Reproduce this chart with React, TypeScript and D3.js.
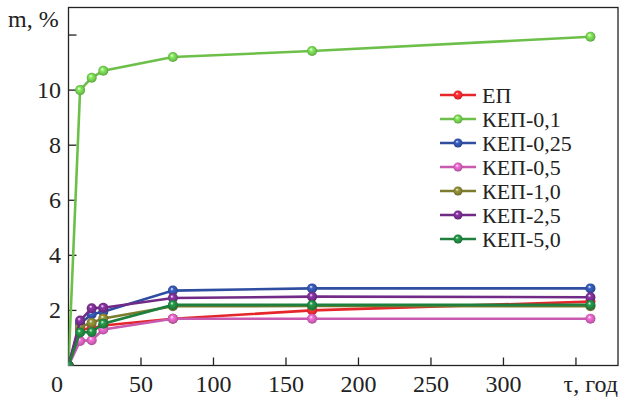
import React, { useEffect, useRef } from 'react';
import * as d3 from 'd3';

// time, hours
const hours = [0, 8, 16, 24, 72, 168, 360];

const seriesNames = ['ЕП', 'КЕП-0,1', 'КЕП-0,25', 'КЕП-0,5', 'КЕП-1,0', 'КЕП-2,5', 'КЕП-5,0'];
const seriesColors = ['#e5262b', '#6cc04a', '#2f4ea1', '#c85ab0', '#7d7b2e', '#712b87', '#1f7f3d'];

// mass change, %
const ep = [0, 1.3, 1.35, 1.45, 1.7, 2.0, 2.32];
const kep01 = [0, 10.0, 10.45, 10.7, 11.2, 11.42, 11.94];
const kep025 = [0, 1.52, 1.86, 1.95, 2.72, 2.8, 2.8];
const kep05 = [0, 0.89, 0.92, 1.31, 1.7, 1.7, 1.7];
const kep10 = [0, 1.4, 1.55, 1.71, 2.15, 2.16, 2.15];
const kep25 = [0, 1.63, 2.08, 2.1, 2.45, 2.5, 2.48];
const kep50 = [0, 1.2, 1.22, 1.52, 2.2, 2.2, 2.2];

const allSeries = [ep, kep01, kep025, kep05, kep10, kep25, kep50];

const yTicks = [2, 4, 6, 8, 10, 12];
const xTicks = [50, 100, 150, 200, 250, 300, 350];
const xTickLabels = ['50', '100', '150', '200', '250', '300', ''];

const App = () => {
  const chartRef = useRef<SVGSVGElement>(null);

  useEffect(() => {
    const width = 619;
    const height = 401;
    const left = 68.5, right = 618, top = 7.5, bottom = 365.5;

    const x = d3.scaleLinear().domain([0, 379]).range([left, right]);
    const y = d3.scaleLinear().domain([0, 13]).range([bottom, top]);

    const svg = d3.select(chartRef.current)
      .attr('width', width)
      .attr('height', height);
    svg.selectAll('*').remove();

    const defs = svg.append('defs');
    seriesColors.forEach((c, i) => {
      const g = defs.append('radialGradient')
        .attr('id', `ball${i}`)
        .attr('cx', '50%').attr('cy', '50%').attr('r', '55%')
        .attr('fx', '38%').attr('fy', '32%');
      g.append('stop').attr('offset', '0%').attr('stop-color', '#ffffff');
      g.append('stop').attr('offset', '30%').attr('stop-color', d3.color(c)!.brighter(0.6).formatHex());
      g.append('stop').attr('offset', '75%').attr('stop-color', c);
      g.append('stop').attr('offset', '100%').attr('stop-color', d3.color(c)!.darker(0.8).formatHex());
    });
    defs.append('clipPath').attr('id', 'plotclip')
      .append('rect')
      .attr('x', left).attr('y', top - 10)
      .attr('width', right - left + 10).attr('height', bottom - top + 10);

    const font = '"Liberation Serif", "Times New Roman", serif';

    // frame
    svg.append('rect')
      .attr('x', left).attr('y', top)
      .attr('width', right - left).attr('height', bottom - top)
      .attr('fill', 'none').attr('stroke', '#222').attr('stroke-width', 1.3);

    // ticks (inward)
    svg.selectAll('.yt').data(yTicks).enter().append('line')
      .attr('x1', left).attr('x2', left + 8)
      .attr('y1', d => y(d)).attr('y2', d => y(d))
      .attr('stroke', '#222').attr('stroke-width', 1.3);
    svg.selectAll('.xt').data(xTicks).enter().append('line')
      .attr('x1', d => x(d)).attr('x2', d => x(d))
      .attr('y1', bottom).attr('y2', bottom - 8)
      .attr('stroke', '#222').attr('stroke-width', 1.3);

    svg.selectAll('.yl').data(yTicks.filter(d => d <= 10)).enter().append('text')
      .attr('x', 61).attr('y', d => y(d) + 8)
      .attr('text-anchor', 'end')
      .attr('font-family', font).attr('font-size', 24).attr('fill', '#222')
      .text(d => d);
    svg.selectAll('.xl').data(xTicks).enter().append('text')
      .attr('x', d => x(d)).attr('y', 392)
      .attr('text-anchor', 'middle')
      .attr('font-family', font).attr('font-size', 24).attr('fill', '#222')
      .text((d, i) => xTickLabels[i]);

    svg.append('text').attr('x', 57).attr('y', 392).attr('text-anchor', 'middle')
      .attr('font-family', font).attr('font-size', 24).attr('fill', '#222').text('0');
    svg.append('text').attr('x', 8).attr('y', 27)
      .attr('font-family', font).attr('font-size', 24).attr('fill', '#222').text('m, %');
    svg.append('text').attr('x', 618).attr('y', 392).attr('text-anchor', 'end')
      .attr('font-family', font).attr('font-size', 24).attr('fill', '#222').text('τ, год');

    const line = d3.line<number>()
      .x((d, i) => x(hours[i]))
      .y(d => y(d));

    const plot = svg.append('g').attr('clip-path', 'url(#plotclip)');
    allSeries.forEach((vals, s) => {
      const g = plot.append('g');
      g.append('path')
        .attr('d', line(vals))
        .attr('fill', 'none')
        .attr('stroke', seriesColors[s])
        .attr('stroke-width', 2.6);
      g.selectAll('circle').data(vals).enter().append('circle')
        .attr('cx', (d, i) => x(hours[i]))
        .attr('cy', d => y(d))
        .attr('r', 5)
        .attr('fill', `url(#ball${s})`);
    });

    // legend
    const lg = svg.append('g').attr('transform', 'translate(440,95)');
    seriesNames.forEach((name, i) => {
      const row = lg.append('g').attr('transform', `translate(0,${i * 24})`);
      row.append('line').attr('x1', 0).attr('x2', 36).attr('y1', 0).attr('y2', 0)
        .attr('stroke', seriesColors[i]).attr('stroke-width', 2.6);
      row.append('circle').attr('cx', 18).attr('cy', 0).attr('r', 4.5)
        .attr('fill', `url(#ball${i})`);
      row.append('text').attr('x', 42).attr('y', 8)
        .attr('font-family', font).attr('font-size', 22)
        .attr('fill', '#222').text(name);
    });
  }, []);

  return <svg ref={chartRef} style={{ position: 'absolute', left: 0, top: 0 }}></svg>;
};

export default App;
